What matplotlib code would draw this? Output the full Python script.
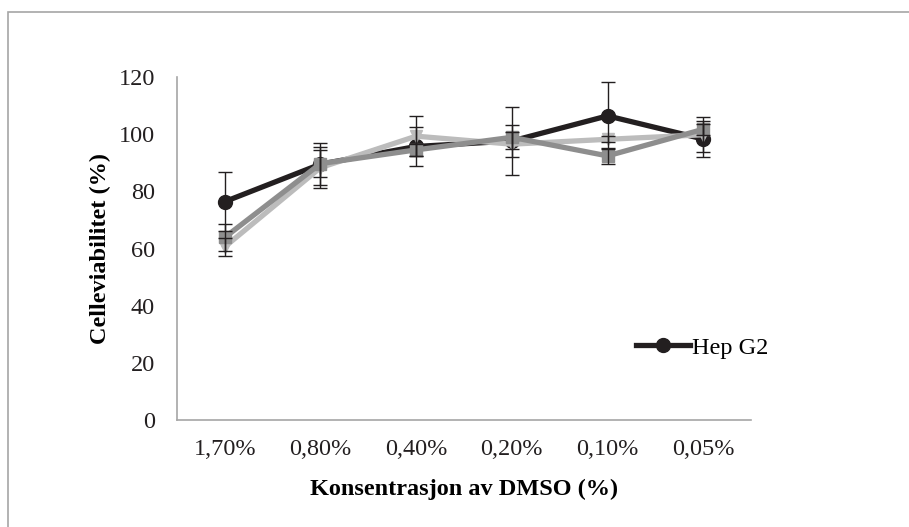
import matplotlib.pyplot as plt
from matplotlib.lines import Line2D
from matplotlib.patches import Rectangle

plt.rcParams['font.family'] = ['Liberation Serif', 'DejaVu Serif']

categories = ['1,70%', '0,80%', '0,40%', '0,20%', '0,10%', '0,05%']

hep_g2 = [76.4, 89.5, 95.7, 97.6, 106.4, 98.3]
hep_g2_err = [10.2, 7.3, 6.7, 12.0, 11.7, 6.2]

serie2 = [63.9, 89.7, 94.5, 98.9, 92.4, 101.7]
serie2_err = [4.7, 4.8, 2.0, 4.2, 2.9, 2.0]

serie3 = [60.6, 88.3, 99.3, 96.5, 98.2, 99.8]
serie3_err = [3.2, 7.3, 7.0, 4.4, 1.0, 6.2]

fig = plt.figure(figsize=(9.09, 5.27), dpi=100)
ax = fig.add_axes([0.1947, 0.2030, 0.6315, 0.6509])

# grey frame around the whole chart
fig.patches.append(Rectangle((8 / 909, -0.1), 1.2, 1 - 12 / 527 + 0.1,
                             transform=fig.transFigure, fill=False,
                             edgecolor='#a6a6a6', linewidth=1.2))

x = list(range(len(categories)))

ax.plot(x, hep_g2, color='#231f20', lw=3.8, marker='o', ms=10, zorder=2)
ax.plot(x, serie3, color='#bcbcbc', lw=3.8, marker='v', ms=9, zorder=3)
ax.plot(x, serie2, color='#8e8e8e', lw=3.8, marker='s', ms=8.5, zorder=4)

for vals, err in [(hep_g2, hep_g2_err), (serie2, serie2_err), (serie3, serie3_err)]:
    ax.errorbar(x, vals, yerr=err, fmt='none', ecolor='#231f20',
                elinewidth=1.0, capsize=5, capthick=1.0, zorder=5)

ax.set_xlim(-0.5, 5.5)
ax.set_ylim(0, 120)
ax.set_yticks(range(0, 121, 20))
ax.set_xticks(x)
ax.set_xticklabels(categories)
ax.tick_params(length=0, labelsize=17.5, colors='#231f20')
ax.tick_params(axis='y', pad=16)
ax.tick_params(axis='x', pad=14)

for s in ['top', 'right']:
    ax.spines[s].set_visible(False)
for s in ['left', 'bottom']:
    ax.spines[s].set_color('#a6a6a6')
    ax.spines[s].set_linewidth(1.2)

ax.set_ylabel('Celleviabilitet (%)', fontsize=17.5, fontweight='bold', labelpad=5)
ax.set_xlabel('Konsentrasjon av DMSO (%)', fontsize=17.5, fontweight='bold', labelpad=13)

handle = Line2D([], [], color='#231f20', lw=3.8, marker='o', ms=10)
ax.legend([handle], ['Hep G2'], loc='center left', bbox_to_anchor=(0.80, 0.21),
          frameon=False, fontsize=17.5, handlelength=2.2, handletextpad=0.1,
          borderpad=0, borderaxespad=0)

fig.savefig('out.png', dpi=100)
